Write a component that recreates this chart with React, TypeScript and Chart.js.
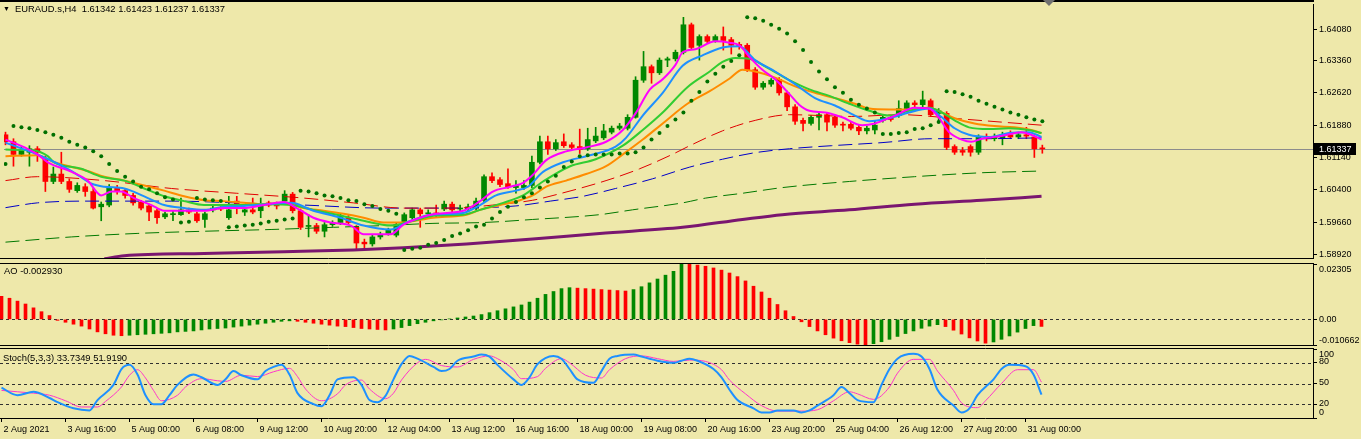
import React, { useEffect, useRef } from "react";
import { Chart, registerables } from "chart.js";
Chart.register(...registerables);

// ---------- data ----------
const TICK_LABELS = ["2 Aug 2021", "3 Aug 16:00", "5 Aug 00:00", "6 Aug 08:00", "9 Aug 12:00", "10 Aug 20:00", "12 Aug 04:00", "13 Aug 12:00", "16 Aug 16:00", "18 Aug 00:00", "19 Aug 08:00", "20 Aug 16:00", "23 Aug 20:00", "25 Aug 04:00", "26 Aug 12:00", "27 Aug 20:00", "31 Aug 00:00"];
const PRICE_TICKS = [1.5892, 1.5966, 1.604, 1.6114, 1.6188, 1.6262, 1.6336, 1.6408];
const LAST_PRICE = 1.61337;

const OPEN = [
  1.6166, 1.6150, 1.6121, 1.6126, 1.6134, 1.6110, 1.6059, 1.6076, 1.6059, 1.6038,
  1.6047, 1.6036, 1.6001, 1.6005, 1.6045, 1.6038, 1.6027, 1.6012, 1.6003, 1.5992,
  1.5978, 1.5983, 1.5983, 1.5994, 1.5985, 1.5972, 1.5994, 1.5998, 1.5976, 1.6014,
  1.5989, 1.5994, 1.5992, 1.6010, 1.6005, 1.6014, 1.6030, 1.5992, 1.5956, 1.5958,
  1.5945, 1.5960, 1.5965, 1.5976, 1.5954, 1.5920, 1.5916, 1.5932, 1.5940, 1.5936,
  1.5965, 1.5976, 1.5994, 1.5985, 1.5987, 1.5996, 1.6007, 1.5996, 1.5996, 1.5998,
  1.6016, 1.6070, 1.6063, 1.6054, 1.6045, 1.6045, 1.6050, 1.6103, 1.6150, 1.6134,
  1.6150, 1.6143, 1.6139, 1.6134, 1.6152, 1.6159, 1.6172, 1.6181, 1.6181, 1.6206,
  1.6291, 1.6322, 1.6308, 1.6337, 1.6340, 1.6355, 1.6418, 1.6371, 1.6391, 1.6382,
  1.6391, 1.6384, 1.6373, 1.6371, 1.6315, 1.6275, 1.6282, 1.6293, 1.6262, 1.6230,
  1.6199, 1.6192, 1.6206, 1.6212, 1.6206, 1.6190, 1.6190, 1.6183, 1.6175, 1.6177,
  1.6199, 1.6206, 1.6210, 1.6226, 1.6239, 1.6235, 1.6244, 1.6215, 1.6215, 1.6139,
  1.6130, 1.6139, 1.6126, 1.6161, 1.6157, 1.6157, 1.6166, 1.6161, 1.6166, 1.6161,
  1.61342,
];
const HIGH = [
  1.6172, 1.6157, 1.6139, 1.6141, 1.6139, 1.6117, 1.6092, 1.6126, 1.6065, 1.6056,
  1.6054, 1.6043, 1.6012, 1.6052, 1.6050, 1.6043, 1.6032, 1.6016, 1.6007, 1.5996,
  1.5989, 1.5992, 1.6021, 1.5998, 1.5989, 1.5989, 1.6003, 1.6005, 1.6025, 1.6025,
  1.5998, 1.6021, 1.6021, 1.6014, 1.6012, 1.6038, 1.6034, 1.5996, 1.5983, 1.5963,
  1.5965, 1.5969, 1.5985, 1.5981, 1.5958, 1.5927, 1.5936, 1.5943, 1.5952, 1.5965,
  1.5987, 1.5998, 1.5998, 1.5994, 1.6005, 1.6014, 1.6012, 1.6005, 1.6007, 1.6021,
  1.6074, 1.6079, 1.6068, 1.6088, 1.6061, 1.6061, 1.6117, 1.6163, 1.6163, 1.6155,
  1.6168, 1.6148, 1.6179, 1.6181, 1.6183, 1.6190, 1.6186, 1.6192, 1.6212, 1.6299,
  1.6357, 1.6326, 1.6342, 1.6344, 1.6360, 1.6435, 1.6422, 1.6395, 1.6395, 1.6395,
  1.6413, 1.6389, 1.6378, 1.6375, 1.6320, 1.6288, 1.6295, 1.6297, 1.6266, 1.6235,
  1.6204, 1.6210, 1.6217, 1.6217, 1.6210, 1.6195, 1.6195, 1.6188, 1.6186, 1.6197,
  1.6210, 1.6210, 1.6244, 1.6244, 1.6244, 1.6266, 1.6248, 1.6226, 1.6219, 1.6143,
  1.6137, 1.6143, 1.6166, 1.6168, 1.6168, 1.6172, 1.6175, 1.6172, 1.6183, 1.6166,
  1.61423,
];
const LOW = [
  1.6143, 1.6094, 1.6117, 1.6094, 1.6105, 1.6036, 1.6054, 1.6054, 1.6034, 1.6034,
  1.6025, 1.5996, 1.5969, 1.6001, 1.6030, 1.6021, 1.6005, 1.5994, 1.5969, 1.5963,
  1.5974, 1.5969, 1.5981, 1.5985, 1.5965, 1.5954, 1.5989, 1.5992, 1.5972, 1.5985,
  1.5981, 1.5985, 1.5976, 1.6001, 1.5996, 1.6010, 1.5987, 1.5949, 1.5932, 1.5940,
  1.5932, 1.5956, 1.5960, 1.5960, 1.5905, 1.5905, 1.5911, 1.5927, 1.5936, 1.5932,
  1.5960, 1.5972, 1.5954, 1.5981, 1.5978, 1.5992, 1.5989, 1.5992, 1.5992, 1.5994,
  1.6012, 1.6056, 1.6047, 1.6043, 1.6032, 1.6041, 1.6045, 1.6099, 1.6121, 1.6130,
  1.6137, 1.6132, 1.6123, 1.6130, 1.6148, 1.6155, 1.6168, 1.6177, 1.6177, 1.6204,
  1.6286, 1.6284, 1.6304, 1.6322, 1.6335, 1.6351, 1.6362, 1.6337, 1.6375, 1.6378,
  1.6360, 1.6351, 1.6362, 1.6311, 1.6270, 1.6270, 1.6277, 1.6257, 1.6221, 1.6190,
  1.6175, 1.6188, 1.6177, 1.6175, 1.6183, 1.6175, 1.6177, 1.6166, 1.6168, 1.6168,
  1.6195, 1.6197, 1.6206, 1.6221, 1.6230, 1.6230, 1.6208, 1.6195, 1.6132, 1.6121,
  1.6119, 1.6117, 1.6121, 1.6152, 1.6152, 1.6143, 1.6157, 1.6157, 1.6157, 1.6114,
  1.61237,
];
const CLOSE = [
  1.6150, 1.6121, 1.6132, 1.6134, 1.6126, 1.6059, 1.6076, 1.6059, 1.6041, 1.6050,
  1.6036, 1.5998, 1.6007, 1.6045, 1.6036, 1.6027, 1.6010, 1.5998, 1.5989, 1.5976,
  1.5985, 1.5985, 1.5994, 1.5989, 1.5969, 1.5985, 1.5998, 1.5996, 1.5994, 1.6005,
  1.5994, 1.5989, 1.6005, 1.6005, 1.6003, 1.6030, 1.5992, 1.5954, 1.5958, 1.5945,
  1.5960, 1.5965, 1.5981, 1.5965, 1.5918, 1.5916, 1.5932, 1.5938, 1.5947, 1.5960,
  1.5983, 1.5994, 1.5985, 1.5987, 1.5983, 1.6007, 1.5994, 1.5998, 1.6001, 1.6014,
  1.6070, 1.6061, 1.6052, 1.6047, 1.6050, 1.6050, 1.6103, 1.6150, 1.6134, 1.6148,
  1.6141, 1.6137, 1.6132, 1.6155, 1.6163, 1.6175, 1.6181, 1.6186, 1.6206, 1.6291,
  1.6322, 1.6308, 1.6337, 1.6340, 1.6355, 1.6418, 1.6366, 1.6391, 1.6380, 1.6391,
  1.6382, 1.6371, 1.6369, 1.6315, 1.6275, 1.6284, 1.6291, 1.6262, 1.6230, 1.6197,
  1.6192, 1.6206, 1.6212, 1.6195, 1.6188, 1.6188, 1.6181, 1.6175, 1.6181, 1.6188,
  1.6206, 1.6201, 1.6226, 1.6239, 1.6235, 1.6246, 1.6212, 1.6221, 1.6137, 1.6126,
  1.6126, 1.6126, 1.6161, 1.6157, 1.6161, 1.6166, 1.6161, 1.6166, 1.6163, 1.6134,
  1.61337,
];

// moving averages: [bar index, price]
const MA_MAGENTA: [number, number][] = [
  [0, 1.6155], [2.4, 1.6137], [4, 1.6121], [5.3, 1.6103], [8.3, 1.6081], [10.3, 1.6061], [12, 1.6027], [13.3, 1.6036], [14.5, 1.6036], [16.1, 1.6021],
  [18.3, 1.6005], [19.9, 1.5992], [24.9, 1.5992], [27.4, 1.5998], [29.9, 1.5998], [32.4, 1.6005], [34.9, 1.6012], [36.5, 1.5998], [38.6, 1.5976], [40.8, 1.5965],
  [43.3, 1.5958], [44.9, 1.5938], [48.3, 1.5938], [49.9, 1.5960], [52, 1.5976], [54, 1.5985], [57.4, 1.5992], [59.5, 1.6014], [61.1, 1.6036], [63.3, 1.6047],
  [64.9, 1.6056], [66.1, 1.6074], [67.8, 1.6108], [70.3, 1.6128], [72.8, 1.6137], [75.3, 1.6150], [77.4, 1.6177], [79, 1.6215], [80.8, 1.6270], [82.4, 1.6293],
  [84, 1.6326], [84.9, 1.6355], [86.5, 1.6362], [89, 1.6380], [90.8, 1.6377], [92, 1.6371], [93.3, 1.6344], [94.9, 1.6315], [96.5, 1.6293], [98.3, 1.6259],
  [99.5, 1.6235], [100.8, 1.6221], [102.8, 1.6217], [104.9, 1.6206], [107.4, 1.6188], [109, 1.6192], [111.5, 1.6210], [114, 1.6228], [115.8, 1.6226], [117, 1.6206],
  [118.3, 1.6172], [119.9, 1.6155], [121.1, 1.6150], [122.4, 1.6157], [124.9, 1.6163], [127.4, 1.6172], [128.6, 1.6166], [129.9, 1.6155],
];
const MA_BLUE: [number, number][] = [
  [0, 1.6148], [4.9, 1.6114], [8.3, 1.6083], [10.8, 1.6054], [12.4, 1.6047], [14.9, 1.6043], [17.4, 1.6025], [19.9, 1.6005], [22.4, 1.5998], [24.9, 1.5994],
  [27.4, 1.6001], [29.9, 1.6003], [32.8, 1.6007], [35.8, 1.6010], [38.6, 1.5992], [42, 1.5976], [44.9, 1.5958], [48.3, 1.5949], [50.3, 1.5965], [53.3, 1.5983],
  [57.4, 1.5987], [59.5, 1.6005], [61.5, 1.6027], [64, 1.6038], [65.5, 1.6047], [67.4, 1.6081], [69.9, 1.6103], [73.3, 1.6119], [76.5, 1.6139], [77.8, 1.6159],
  [79.9, 1.6210], [82.4, 1.6262], [84.9, 1.6324], [87.4, 1.6348], [89.9, 1.6366], [92, 1.6369], [94, 1.6337], [96.5, 1.6311], [99, 1.6282], [101.5, 1.6250],
  [104, 1.6233], [106.5, 1.6210], [108.3, 1.6197], [110.8, 1.6204], [113.3, 1.6217], [115.8, 1.6226], [117.4, 1.6206], [119, 1.6181], [120.8, 1.6166], [123.3, 1.6161],
  [125.8, 1.6170], [128.3, 1.6172], [129.9, 1.6161],
];
const MA_GREEN: [number, number][] = [
  [0, 1.6132], [3.6, 1.6130], [5.3, 1.6117], [6.1, 1.6103], [9.5, 1.6088], [12, 1.6070], [14.9, 1.6061], [17.4, 1.6043], [19.9, 1.6025], [22.4, 1.6014],
  [24.9, 1.6005], [29.9, 1.6005], [32.8, 1.6007], [35.8, 1.6005], [38.6, 1.5994], [42, 1.5981], [44.9, 1.5969], [48.3, 1.5958], [51.1, 1.5969], [54, 1.5981],
  [57.4, 1.5983], [59.5, 1.5994], [62.4, 1.6010], [64.9, 1.6027], [67.4, 1.6059], [70.8, 1.6094], [74, 1.6110], [77.4, 1.6141], [79.9, 1.6177], [82.4, 1.6217],
  [85.5, 1.6275], [88.3, 1.6311], [89.9, 1.6333], [91.5, 1.6342], [93.3, 1.6340], [95.5, 1.6320], [98.1, 1.6293], [100.8, 1.6270], [103.3, 1.6255], [105.8, 1.6237],
  [108.3, 1.6221], [110.8, 1.6210], [113.3, 1.6221], [115.8, 1.6228], [117.4, 1.6217], [119, 1.6199], [120.8, 1.6183], [123.3, 1.6179], [125.8, 1.6181], [128.3, 1.6177],
  [129.9, 1.6170],
];
const MA_ORANGE: [number, number][] = [
  [0, 1.6117], [4, 1.6119], [6.1, 1.6103], [10.3, 1.6083], [12.4, 1.6070], [14.9, 1.6061], [17.4, 1.6050], [19.9, 1.6038], [22.4, 1.6025], [24.9, 1.6016],
  [27.4, 1.6014], [29.9, 1.6010], [32.4, 1.6007], [34.9, 1.6010], [37.4, 1.5998], [39.9, 1.5992], [42.4, 1.5985], [44.9, 1.5976], [47.4, 1.5965], [49.5, 1.5965],
  [53.6, 1.5976], [57.8, 1.5983], [59.5, 1.5994], [62, 1.6005], [64.5, 1.6016], [66.1, 1.6027], [67.8, 1.6047], [70.3, 1.6061], [72.8, 1.6076], [75.3, 1.6094],
  [77.4, 1.6121], [79.9, 1.6155], [82.4, 1.6192], [85.5, 1.6237], [88.3, 1.6266], [90.8, 1.6295], [92.4, 1.6315], [94, 1.6311], [96.5, 1.6297], [99, 1.6277],
  [101.5, 1.6262], [104, 1.6250], [106.5, 1.6237], [108.3, 1.6226], [110.8, 1.6224], [113.3, 1.6224], [115.8, 1.6228], [117.4, 1.6217], [119, 1.6204], [121.5, 1.6192],
  [124, 1.6186], [126.5, 1.6183], [128.6, 1.6177], [129.9, 1.6170],
];
const MA_RED_DASH: [number, number][] = [
  [0, 1.6061], [4, 1.6070], [12.4, 1.6061], [20.8, 1.6043], [29, 1.6032], [37.4, 1.6021], [43.6, 1.6010], [49.9, 1.5998], [56.1, 1.5998], [61.1, 1.6005],
  [66.1, 1.6016], [69.3, 1.6030], [75.3, 1.6061], [79.5, 1.6088], [83.6, 1.6121], [85.8, 1.6141], [89.9, 1.6175], [94, 1.6199], [98.3, 1.6212], [102.4, 1.6210],
  [106.1, 1.6208], [112.4, 1.6212], [118.6, 1.6204], [124.9, 1.6195], [129.9, 1.6188],
];
const MA_BLUE_DASH: [number, number][] = [
  [0, 1.5999], [4, 1.6010], [9.9, 1.6014], [21.1, 1.6014], [29, 1.6010], [37.4, 1.6005], [47.4, 1.5998], [54.9, 1.5998], [64, 1.6003], [68.3, 1.6014],
  [72.4, 1.6025], [76.5, 1.6043], [81.1, 1.6065], [85.8, 1.6092], [89.9, 1.6110], [94, 1.6125], [98.3, 1.6134], [103.6, 1.6141], [109.9, 1.6148], [116.1, 1.6157],
  [122.4, 1.6157], [129.9, 1.6159],
];
const MA_GREEN_DASH: [number, number][] = [
  [0, 1.5920], [8.3, 1.5932], [16.5, 1.5940], [24.9, 1.5945], [33.3, 1.5949], [41.1, 1.5954], [47.4, 1.5958], [53.6, 1.5963], [59.9, 1.5965], [66.1, 1.5972],
  [74.5, 1.5983], [78.6, 1.5994], [84.9, 1.6010], [87.8, 1.6021], [92.4, 1.6032], [97.4, 1.6045], [105.8, 1.6059], [114, 1.6070], [122.4, 1.6079], [129.9, 1.6083],
];
const MA_PURPLE: [number, number][] = [
  [12.4, 1.5882], [14.9, 1.5889], [24.9, 1.5894], [34.9, 1.5898], [43.6, 1.5902], [49.9, 1.5907], [57.8, 1.5916], [66.1, 1.5927], [74.5, 1.5940], [84.9, 1.5954],
  [92.4, 1.5972], [97.4, 1.5983], [105.8, 1.5994], [114, 1.6007], [122.4, 1.6016], [129.9, 1.6025],
];
const SAR = [
  1.6099, 1.6186, 1.6183, 1.6181, 1.6177, 1.6172, 1.6166, 1.6159, 1.6150, 1.6143,
  1.6137, 1.6128, 1.6117, 1.6099, 1.6083, 1.6070, 1.6059, 1.6047, 1.6041, 1.6032,
  1.6023, 1.6018, 1.5965, 1.5967, 1.6021, 1.6018, 1.6016, 1.6014, 1.5954, 1.5956,
  1.5958, 1.5960, 1.5963, 1.5967, 1.5969, 1.5972, 1.5974, 1.6038, 1.6036, 1.6032,
  1.6027, 1.6025, 1.6021, 1.6016, 1.6014, 1.6007, 1.6003, 1.5996, 1.5992, 1.5985,
  1.5902, 1.5905, 1.5907, 1.5914, 1.5918, 1.5925, 1.5934, 1.5940, 1.5947, 1.5956,
  1.5960, 1.5974, 1.5989, 1.6001, 1.6012, 1.6023, 1.6032, 1.6045, 1.6059, 1.6072,
  1.6092, 1.6105, 1.6117, 1.6119, 1.6121, 1.6121, 1.6121, 1.6123, 1.6123, 1.6126,
  1.6137, 1.6155, 1.6170, 1.6186, 1.6201, 1.6217, 1.6244, 1.6264, 1.6288, 1.6306,
  1.6322, 1.6335, 1.6348, 1.6435, 1.6433, 1.6427, 1.6418, 1.6409, 1.6398, 1.6380,
  1.6360, 1.6333, 1.6311, 1.6293, 1.6275, 1.6262, 1.6246, 1.6235, 1.6226, 1.6217,
  1.6168, 1.6168, 1.6170, 1.6172, 1.6179, 1.6181, 1.6188, 1.6195, 1.6266, 1.6264,
  1.6259, 1.6253, 1.6244, 1.6237, 1.6230, 1.6224, 1.6217, 1.6212, 1.6206, 1.6201,
  1.6197,
];

const AO = [
  0.0096, 0.0088, 0.0076, 0.0064, 0.0048, 0.0032, 0.0016, -0.0004, -0.0012, -0.0020,
  -0.0028, -0.0040, -0.0052, -0.0060, -0.0066, -0.0068, -0.0066, -0.0064, -0.0062, -0.0060,
  -0.0058, -0.0056, -0.0052, -0.0050, -0.0048, -0.0044, -0.0040, -0.0038, -0.0036, -0.0032,
  -0.0028, -0.0024, -0.0020, -0.0016, -0.0012, -0.0008, -0.0006, -0.0008, -0.0012, -0.0016,
  -0.0020, -0.0024, -0.0028, -0.0030, -0.0034, -0.0038, -0.0040, -0.0042, -0.0044, -0.0040,
  -0.0034, -0.0026, -0.0018, -0.0012, -0.0006, -0.0002, 0.0002, 0.0006, 0.0010, 0.0014,
  0.0020, 0.0028, 0.0036, 0.0044, 0.0052, 0.0060, 0.0072, 0.0088, 0.0104, 0.0116,
  0.0128, 0.0132, 0.0130, 0.0128, 0.0126, 0.0124, 0.0122, 0.0120, 0.0118, 0.0124,
  0.0136, 0.0152, 0.0168, 0.0184, 0.0200, 0.02305, 0.0229, 0.0226, 0.0221, 0.0214,
  0.0205, 0.0193, 0.0178, 0.0160, 0.0138, 0.0114, 0.0088, 0.0062, 0.0036, 0.0012,
  -0.0010, -0.0030, -0.0048, -0.0064, -0.0078, -0.0089, -0.0097, -0.0103, -0.010662, -0.0101,
  -0.0093, -0.0083, -0.0071, -0.0059, -0.0048, -0.0037, -0.0028, -0.0022, -0.0030, -0.0045,
  -0.0061, -0.0077, -0.0090, -0.0099, -0.0094, -0.0083, -0.0069, -0.0053, -0.0038, -0.0026,
  -0.00293,
];
const AO_MAX = 0.02305;
const AO_MIN = -0.010662;

const STOCH_MAIN: [number, number][] = [
  [0, 44], [2, 33], [4, 38], [6, 29], [7, 23], [9, 14], [11, 11], [12, 26], [14, 48], [15, 71],
  [16, 77], [17, 63], [18, 33], [19, 20], [20, 20], [21, 33], [22, 48], [24, 63], [25, 59], [27, 48],
  [28, 56], [29, 68], [30, 62], [32, 56], [33, 68], [34, 74], [35, 77], [36, 63], [37, 36], [39, 20],
  [40, 17], [41, 33], [42, 56], [44, 59], [45, 48], [46, 26], [47, 23], [48, 32], [49, 56], [50, 78],
  [51, 90], [52, 86], [54, 74], [55, 68], [56, 71], [57, 83], [59, 89], [60, 92], [61, 89], [62, 77],
  [64, 56], [65, 48], [66, 59], [67, 78], [69, 90], [70, 86], [71, 71], [72, 56], [74, 51], [75, 68],
  [76, 86], [77, 90], [79, 92], [80, 89], [81, 86], [82, 83], [84, 80], [85, 83], [86, 86], [87, 83],
  [89, 71], [90, 59], [91, 41], [92, 26], [94, 14], [95, 8], [96, 8], [97, 11], [99, 11], [100, 8],
  [101, 11], [102, 18], [104, 33], [105, 45], [106, 36], [107, 26], [109, 23], [110, 48], [111, 71], [112, 86],
  [114, 93], [115, 89], [116, 71], [117, 41], [119, 18], [120, 8], [121, 14], [122, 33], [124, 56], [125, 71],
  [126, 77], [128, 75], [129, 63], [130, 33.7349],
];
const STOCH_SIGNAL: [number, number][] = [
  [0, 40], [2, 38], [4, 36], [6, 33], [8, 25], [10, 16], [12, 16], [13, 24], [15, 45], [16, 62],
  [17, 70], [18, 58], [19, 40], [20, 25], [22, 33], [23, 45], [25, 57], [27, 54], [28, 53], [30, 62],
  [32, 60], [34, 67], [36, 72], [37, 60], [38, 42], [40, 25], [42, 35], [43, 48], [45, 55], [46, 42],
  [48, 28], [49, 36], [50, 55], [52, 80], [53, 85], [55, 76], [57, 74], [59, 85], [61, 90], [62, 86],
  [64, 70], [65, 57], [67, 60], [68, 72], [70, 86], [71, 80], [73, 62], [75, 58], [76, 70], [78, 86],
  [80, 90], [82, 86], [84, 82], [86, 84], [88, 82], [90, 70], [91, 55], [93, 35], [95, 18], [97, 10],
  [100, 10], [102, 12], [104, 25], [106, 38], [107, 35], [109, 27], [111, 45], [112, 65], [114, 85], [116, 85],
  [117, 68], [119, 40], [120, 22], [122, 15], [123, 25], [125, 50], [127, 70], [129, 70], [130, 51.919],
];
const STOCH_LEVELS = [20, 50, 80];

// ---------- styling ----------
const FONT = "'Liberation Sans', Arial, sans-serif";
const BG = "#EEE8AA";
const UP = "#008800";
const DOWN = "#FF0000";
const X_MIN = -0.1875;
const X_MAX = 163.9375;
const AXIS_W = 48;
const MAIN_MIN = 1.58837;
const MAIN_MAX = 1.64656;

const fixY = (s: any) => {
  s.width = AXIS_W;
  s.paddingTop = 0;
  s.paddingBottom = 0;
};

const pts = (a: [number, number][]) => a.map(([x, y]) => ({ x, y }));
const mkLine = (data: [number, number][], color: string, width: number, dash: number[], order: number) => ({
  type: "line",
  data: pts(data),
  borderColor: color,
  borderWidth: width,
  borderDash: dash,
  pointRadius: 0,
  fill: false,
  tension: 0.3,
  cubicInterpolationMode: "monotone",
  order,
});

const baseOpts = (padTop: number, padBottom: number) => ({
  animation: false,
  responsive: false,
  maintainAspectRatio: false,
  devicePixelRatio: 1,
  events: [],
  layout: { padding: { top: padTop, bottom: padBottom, left: 0, right: 0 } },
  plugins: { legend: { display: false }, tooltip: { enabled: false } },
});

const hLine = (ctx: CanvasRenderingContext2D, y: number, x0: number, x1: number) => {
  ctx.beginPath();
  ctx.moveTo(x0, y);
  ctx.lineTo(x1, y);
  ctx.stroke();
};

export default function App() {
  const mainRef = useRef<HTMLCanvasElement>(null);
  const aoRef = useRef<HTMLCanvasElement>(null);
  const stRef = useRef<HTMLCanvasElement>(null);

  useEffect(() => {
    const idx = OPEN.map((_, i) => i);
    const cColors = idx.map((i) => (CLOSE[i] >= OPEN[i] ? UP : DOWN));

    const mainPlugin = {
      id: "mainDecor",
      beforeDatasetsDraw(chart: any) {
        const { ctx, chartArea, scales } = chart;
        const y = Math.round(scales.y.getPixelForValue(LAST_PRICE)) + 0.5;
        ctx.save();
        ctx.strokeStyle = "#8C8C8C";
        ctx.lineWidth = 1;
        hLine(ctx, y, chartArea.left, chartArea.right);
        ctx.restore();
      },
      afterDraw(chart: any) {
        const { ctx, chartArea, scales } = chart;
        ctx.save();
        ctx.fillStyle = "#000";
        ctx.fillRect(0, 0, chartArea.right + 1, 2);
        ctx.strokeStyle = "#000";
        ctx.lineWidth = 1;
        hLine(ctx, chartArea.bottom + 0.5, 0, chartArea.right + 1);
        const y = Math.round(scales.y.getPixelForValue(LAST_PRICE));
        ctx.fillStyle = "#000";
        ctx.fillRect(chartArea.right + 1, y - 6, 42, 12);
        ctx.fillStyle = "#fff";
        ctx.font = `9px ${FONT}`;
        ctx.textBaseline = "middle";
        ctx.textAlign = "left";
        ctx.fillText(LAST_PRICE.toFixed(5), chartArea.right + 6, y + 0.5);
        // chart shift marker
        ctx.fillStyle = "#707070";
        ctx.beginPath();
        ctx.moveTo(1043, 0);
        ctx.lineTo(1055, 0);
        ctx.lineTo(1049, 6);
        ctx.closePath();
        ctx.fill();
        ctx.restore();
      },
    };

    const main = new Chart(mainRef.current!, {
      type: "line",
      data: {
        datasets: [
          { type: "line", data: idx.map((i) => ({ x: i, y: SAR[i] })), showLine: false, pointRadius: 2, pointStyle: "circle", pointBackgroundColor: "#007000", pointBorderWidth: 0, order: 0 } as any,
          mkLine(MA_MAGENTA, "#FF00FF", 2, [], 1),
          mkLine(MA_BLUE, "#1E90FF", 2, [], 2),
          mkLine(MA_GREEN, "#32CD32", 2, [], 3),
          mkLine(MA_ORANGE, "#FF8C00", 2, [], 4),
          mkLine(MA_PURPLE, "#7A1670", 3, [], 5),
          mkLine(MA_RED_DASH, "#E00000", 1, [14, 6], 6),
          mkLine(MA_BLUE_DASH, "#0000C8", 1, [14, 6], 7),
          mkLine(MA_GREEN_DASH, "#007800", 1, [14, 6], 8),
          { type: "bar", data: idx.map((i) => ({ x: i, y: [OPEN[i], CLOSE[i]] })), backgroundColor: cColors, barThickness: 5, minBarLength: 1, grouped: false, borderWidth: 0, order: 9 } as any,
          { type: "bar", data: idx.map((i) => ({ x: i, y: [LOW[i], HIGH[i]] })), backgroundColor: cColors, barThickness: 1, grouped: false, borderWidth: 0, order: 10 } as any,
        ] as any,
      },
      options: {
        ...baseOpts(1, 1),
        scales: {
          x: { type: "linear", min: X_MIN, max: X_MAX, display: false, offset: false },
          y: {
            position: "right",
            min: MAIN_MIN,
            max: MAIN_MAX,
            afterBuildTicks: (s: any) => {
              s.ticks = PRICE_TICKS.map((v) => ({ value: v }));
            },
            afterFit: fixY,
            ticks: { font: { family: FONT, size: 9 }, color: "#000", padding: 2, callback: (v: any) => Number(v).toFixed(5) },
            grid: { drawOnChartArea: false, drawTicks: true, tickLength: 4, color: "#000" },
            border: { display: true, color: "#000" },
          },
        },
      } as any,
      plugins: [mainPlugin],
    });

    const aoColors = idx.map((i) => (i > 0 && AO[i] > AO[i - 1] ? UP : DOWN));
    const aoPlugin = {
      id: "aoDecor",
      beforeDatasetsDraw(chart: any) {
        const { ctx, chartArea, scales } = chart;
        ctx.save();
        ctx.strokeStyle = "#303030";
        ctx.lineWidth = 1;
        ctx.setLineDash([3, 3]);
        hLine(ctx, Math.round(scales.y.getPixelForValue(0)) + 0.5, chartArea.left, chartArea.right);
        ctx.restore();
      },
      afterDraw(chart: any) {
        const { ctx, chartArea, scales } = chart;
        ctx.save();
        ctx.strokeStyle = "#000";
        ctx.lineWidth = 1;
        hLine(ctx, chartArea.top - 0.5, 0, chartArea.right + 1);
        hLine(ctx, chartArea.bottom + 0.5, 0, chartArea.right + 1);
        ctx.fillStyle = "#000";
        ctx.font = `9px ${FONT}`;
        ctx.textAlign = "left";
        const x = chartArea.right + 6;
        ctx.textBaseline = "top";
        ctx.fillText(AO_MAX.toFixed(5), x, chartArea.top + 1);
        ctx.textBaseline = "middle";
        ctx.fillText("0.00", x, scales.y.getPixelForValue(0) + 0.5);
        ctx.textBaseline = "bottom";
        ctx.fillText(AO_MIN.toFixed(6), x, chartArea.bottom);
        ctx.restore();
      },
    };
    const ao = new Chart(aoRef.current!, {
      type: "bar",
      data: {
        datasets: [
          { type: "bar", data: idx.map((i) => ({ x: i, y: AO[i] })), backgroundColor: aoColors, barThickness: 3, grouped: false, borderWidth: 0 } as any,
        ],
      },
      options: {
        ...baseOpts(2, 3),
        scales: {
          x: { type: "linear", min: X_MIN, max: X_MAX, display: false, offset: false },
          y: {
            position: "right",
            min: AO_MIN,
            max: AO_MAX,
            afterBuildTicks: (s: any) => {
              s.ticks = [AO_MIN, 0, AO_MAX].map((v) => ({ value: v }));
            },
            afterFit: fixY,
            ticks: { display: false },
            grid: { drawOnChartArea: false, drawTicks: true, tickLength: 4, color: "#000" },
            border: { display: true, color: "#000" },
          },
        },
      } as any,
      plugins: [aoPlugin],
    });

    const stPlugin = {
      id: "stDecor",
      beforeDatasetsDraw(chart: any) {
        const { ctx, chartArea, scales } = chart;
        ctx.save();
        ctx.strokeStyle = "#303030";
        ctx.lineWidth = 1;
        ctx.setLineDash([3, 3]);
        STOCH_LEVELS.forEach((lv) => hLine(ctx, Math.round(scales.y.getPixelForValue(lv)) + 0.5, chartArea.left, chartArea.right));
        ctx.restore();
      },
      afterDraw(chart: any) {
        const { ctx, chartArea, scales } = chart;
        ctx.save();
        ctx.strokeStyle = "#000";
        ctx.lineWidth = 1;
        hLine(ctx, chartArea.top - 0.5, 0, chartArea.right + 1);
        ctx.fillStyle = "#000";
        ctx.font = `9px ${FONT}`;
        ctx.textAlign = "left";
        const x = chartArea.right + 6;
        ctx.textBaseline = "top";
        ctx.fillText("100", x, chartArea.top + 1);
        ctx.textBaseline = "middle";
        STOCH_LEVELS.forEach((lv) => ctx.fillText(String(lv), x, scales.y.getPixelForValue(lv) - 1));
        ctx.textBaseline = "bottom";
        ctx.fillText("0", x, chartArea.bottom - 1);
        ctx.restore();
      },
    };
    const st = new Chart(stRef.current!, {
      type: "line",
      data: {
        datasets: [
          mkLine(STOCH_SIGNAL, "#FF33CC", 1, [], 1),
          mkLine(STOCH_MAIN, "#1E90FF", 2, [], 0),
        ] as any,
      },
      options: {
        ...baseOpts(3, 0),
        scales: {
          x: {
            type: "linear",
            min: X_MIN,
            max: X_MAX,
            offset: false,
            afterBuildTicks: (s: any) => {
              s.ticks = TICK_LABELS.map((_, k) => ({ value: k * 8 }));
            },
            afterFit: (s: any) => {
              s.height = 21;
              s.paddingLeft = 0;
              s.paddingRight = 0;
            },
            ticks: {
              callback: (_v: any, k: number) => TICK_LABELS[k],
              align: "start",
              labelOffset: 2,
              maxRotation: 0,
              minRotation: 0,
              autoSkip: false,
              font: { family: FONT, size: 9 },
              color: "#000",
              padding: 2,
            },
            grid: { drawOnChartArea: false, drawTicks: true, tickLength: 4, color: "#000" },
            border: { display: true, color: "#000" },
          },
          y: {
            position: "right",
            min: 0,
            max: 100,
            afterBuildTicks: (s: any) => {
              s.ticks = [0, 20, 50, 80, 100].map((v) => ({ value: v }));
            },
            afterFit: fixY,
            ticks: { display: false },
            grid: { drawOnChartArea: false, drawTicks: true, tickLength: 4, color: "#000" },
            border: { display: true, color: "#000" },
          },
        },
      } as any,
      plugins: [stPlugin],
    });

    return () => {
      main.destroy();
      ao.destroy();
      st.destroy();
    };
  }, []);

  const txt: React.CSSProperties = {
    position: "absolute",
    fontFamily: FONT,
    fontSize: "9.4px",
    lineHeight: "11px",
    color: "#000",
    whiteSpace: "pre",
    zIndex: 2,
  };

  return (
    <div style={{ position: "fixed", left: 0, top: 0, width: 1361, height: 439, background: BG, overflow: "hidden" }}>
      <canvas ref={mainRef} width={1361} height={262} style={{ position: "absolute", left: 0, top: 0, width: 1361, height: 262 }} />
      <canvas ref={aoRef} width={1361} height={86} style={{ position: "absolute", left: 0, top: 262, width: 1361, height: 86 }} />
      <canvas ref={stRef} width={1361} height={93} style={{ position: "absolute", left: 0, top: 346, width: 1361, height: 93 }} />
      <div style={{ ...txt, left: 3, top: 3, fontSize: "7px" }}>▼</div>
      <div style={{ ...txt, left: 15, top: 3 }}>{"EURAUD.s,H4  1.61342 1.61423 1.61237 1.61337"}</div>
      <div style={{ ...txt, left: 4, top: 265 }}>{"AO -0.002930"}</div>
      <div style={{ ...txt, left: 3, top: 352 }}>{"Stoch(5,3,3) 33.7349 51.9190"}</div>
    </div>
  );
}
